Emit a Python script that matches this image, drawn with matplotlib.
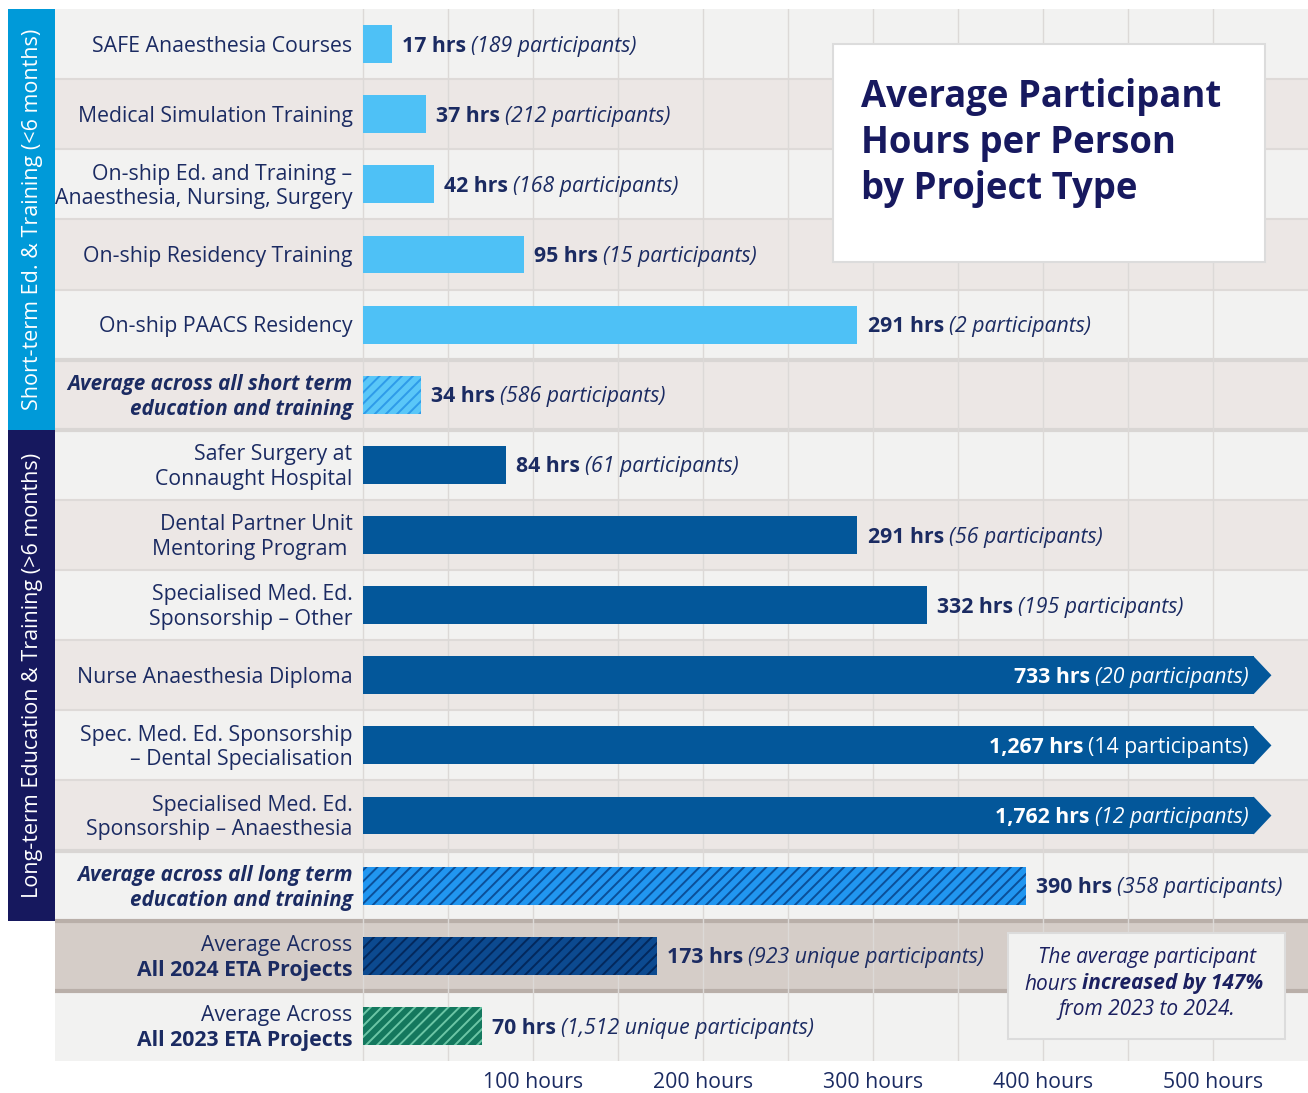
import matplotlib
matplotlib.use('Agg')
import matplotlib.pyplot as plt
from matplotlib.patches import Rectangle, Polygon

plt.rcParams['font.family'] = ['Open Sans', 'DejaVu Sans']
plt.rcParams['hatch.linewidth'] = 1.4

# --- data -------------------------------------------------------------
labels = [
    'SAFE Anaesthesia Courses',
    'Medical Simulation Training',
    'On-ship Ed. and Training –\nAnaesthesia, Nursing, Surgery',
    'On-ship Residency Training',
    'On-ship PAACS Residency',
    'Average across all short term\neducation and training',
    'Safer Surgery at\nConnaught Hospital',
    'Dental Partner Unit\nMentoring Program ',
    'Specialised Med. Ed.\nSponsorship – Other',
    'Nurse Anaesthesia Diploma',
    'Spec. Med. Ed. Sponsorship\n– Dental Specialisation',
    'Specialised Med. Ed.\nSponsorship – Anaesthesia',
    'Average across all long term\neducation and training',
    'Average Across\nAll 2024 ETA Projects',
    'Average Across\nAll 2023 ETA Projects',
]
hours = [17, 37, 42, 95, 291, 34, 84, 291, 332, 733, 1267, 1762, 390, 173, 70]
participants = ['189 participants', '212 participants', '168 participants',
                '15 participants', '2 participants', '586 participants',
                '61 participants', '56 participants', '195 participants',
                '20 participants', '14 participants', '12 participants',
                '358 participants', '923 unique participants',
                '1,512 unique participants']
kinds = ['short'] * 5 + ['short_avg'] + ['long'] * 6 + ['long_avg', 'y2024', 'y2023']
ticks = [100, 200, 300, 400, 500]
tick_labels = [f'{t} hours' for t in ticks]

group_names = ['Short-term Ed. & Training (<6 months)',
               'Long-term Education & Training (>6 months)']
group_rows = [(0, 6), (6, 13)]
group_colors = ['#009ad9', '#16185e']

title = 'Average Participant\nHours per Person\nby Project Type'

# --- styles -----------------------------------------------------------
NAVY = '#1b2b62'
NOTE = '#1b2060'
bar_style = {
    'short': dict(color='#4ec1f6'),
    'short_avg': dict(facecolor='#5ac7f8', edgecolor='#2e9be9', hatch='///'),
    'long': dict(color='#03579a'),
    'long_avg': dict(facecolor='#2196f0', edgecolor='#0b4f98', hatch='///'),
    'y2024': dict(facecolor='#0c4a90', edgecolor='#03285c', hatch='///'),
    'y2023': dict(facecolor='#14785e', edgecolor='#6cc6a6', hatch='///'),
}
CAP = 524.5      # bars longer than this are cut and end with an arrow
TIP = 534.5
XMIN, XMAX = -181, 556
FS = 15.3
DY = 0.03        # small downward nudge of text inside rows

W, H = 1308, 1093
fig = plt.figure(figsize=(W / 100, H / 100), dpi=100)
top_px, bot_px = 9, 1061
ax = fig.add_axes([55 / W, 1 - bot_px / H, 1 - 55 / W, (bot_px - top_px) / H])
n = len(labels)
ax.set_xlim(XMIN, XMAX)
ax.set_ylim(n - 0.5, -0.5)
for s in ax.spines.values():
    s.set_visible(False)
ax.set_yticks([])
ax.set_xticks(ticks, tick_labels, fontsize=FS, color=NAVY)
ax.tick_params(axis='x', length=0, pad=8)

# row backgrounds
for i in range(n):
    if kinds[i] == 'y2024':
        bg = '#d5cdc8'
    else:
        bg = '#f2f2f1' if i % 2 == 0 else '#ece7e5'
    ax.axhspan(i - 0.5, i + 0.5, color=bg, zorder=0, lw=0)
for i in range(1, n):
    if i in (13, 14):
        ax.axhline(i - 0.5, color='#b9afa9', lw=3, zorder=1)
    elif i in (5, 6, 12):
        ax.axhline(i - 0.5, color='#d9d6d4', lw=3, zorder=1)
    else:
        ax.axhline(i - 0.5, color='#dedad8', lw=1.5, zorder=1)

# grid
for gx in range(0, 501, 50):
    ax.axvline(gx, color='#dcd9d7', lw=1, zorder=1)

# bars
bh = 0.54
for i, (v, k) in enumerate(zip(hours, kinds)):
    st = dict(bar_style[k])
    ax.barh(i, min(v, CAP), height=bh, lw=0, zorder=2, **st)
    if v > CAP:
        ax.add_patch(Polygon([(CAP - 0.5, i - bh / 2), (TIP, i), (CAP - 0.5, i + bh / 2)],
                             closed=True, color=st['color'], lw=0, zorder=2))

# value labels
for i, (v, p) in enumerate(zip(hours, participants)):
    hrs = f'{v:,} hrs'
    if v > CAP:
        style = 'normal' if v == 1267 else 'italic'
        t2 = ax.text(521, i + DY, f'({p})', ha='right', va='center', fontsize=FS,
                     color='white', style=style, zorder=4)
        ax.annotate(hrs, xy=(0, 0), xycoords=t2, xytext=(-5, 0),
                    textcoords='offset pixels', ha='right', va='bottom',
                    fontsize=FS, color='white', weight='bold', zorder=4)
    else:
        t1 = ax.text(v + 6, i + DY, hrs, ha='left', va='center', fontsize=FS,
                     color=NAVY, weight='bold', zorder=4)
        ax.annotate(f'({p})', xy=(1, 0), xycoords=t1, xytext=(5, 0),
                    textcoords='offset pixels', ha='left', va='bottom',
                    fontsize=FS, color=NAVY, style='italic', zorder=4)

# row labels
LS = 1.22
for i, (lab, k) in enumerate(zip(labels, kinds)):
    if k in ('short_avg', 'long_avg'):
        ax.text(-6, i + DY, lab, ha='right', va='center', fontsize=14.9, color=NAVY,
                weight='bold', style='italic', linespacing=1.25)
    elif k in ('y2024', 'y2023'):
        l1, l2 = lab.split('\n')
        ax.text(-6, i - 0.18 + DY, l1, ha='right', va='center', fontsize=FS, color=NAVY)
        ax.text(-6, i + 0.18 + DY, l2, ha='right', va='center', fontsize=FS, color=NAVY,
                weight='bold')
    else:
        ax.text(-6, i + DY, lab, ha='right', va='center', fontsize=FS, color=NAVY,
                linespacing=LS)

# group bands on the far left
row_h = (bot_px - top_px) / n
for name, (r0, r1), c in zip(group_names, group_rows, group_colors):
    y0 = top_px + r0 * row_h
    y1 = top_px + r1 * row_h
    fig.add_artist(Rectangle((8 / W, 1 - y1 / H), 47 / W, (y1 - y0) / H,
                             transform=fig.transFigure, color=c, lw=0, zorder=3))
    fig.text(33 / W, 1 - (y0 + y1) / 2 / H, name, rotation=90, ha='center',
             va='center', color='white', fontsize=15.5, zorder=4)

# title box
fig.add_artist(Rectangle((833 / W, 1 - 262 / H), 432 / W, 218 / H,
                         transform=fig.transFigure, facecolor='white',
                         edgecolor='#dcdcdc', lw=1.5, zorder=5))
fig.text(861 / W, 1 - 143 / H, title, ha='left', va='center', fontsize=26.3,
         weight='bold', color='#17195f', linespacing=1.26, zorder=6)

# note box
fig.add_artist(Rectangle((1008 / W, 1 - 1039 / H), 277 / W, 106 / H,
                         transform=fig.transFigure, facecolor='#f2f2f1',
                         edgecolor='#dcdcdc', lw=1.5, zorder=5))
NFS = 15.0
fig.text(1147 / W, 1 - 958 / H, 'The average participant', ha='center', va='center',
         fontsize=NFS, style='italic', color=NOTE, zorder=6)
fig.text(1077 / W, 1 - 984 / H, 'hours', ha='right', va='center', fontsize=NFS,
         style='italic', color=NOTE, zorder=6)
fig.text(1082 / W, 1 - 984 / H, 'increased by 147%', ha='left', va='center',
         fontsize=NFS, style='italic', weight='bold', color=NOTE, zorder=6)
fig.text(1147 / W, 1 - 1009 / H, 'from 2023 to 2024.', ha='center', va='center',
         fontsize=NFS, style='italic', color=NOTE, zorder=6)

fig.savefig('out.png', dpi=100, facecolor='white')
